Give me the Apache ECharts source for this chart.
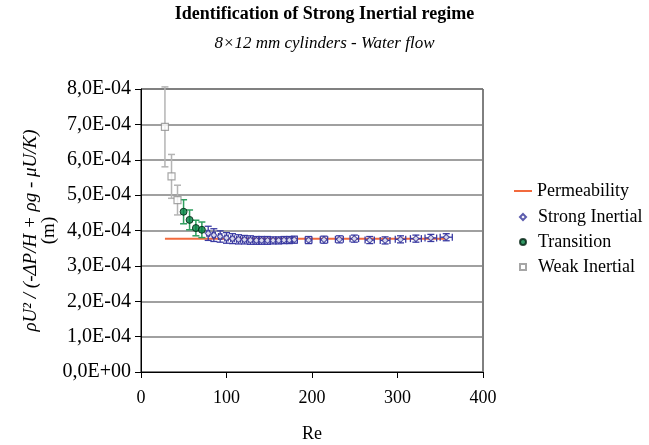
<!DOCTYPE html>
<html>
<head>
<meta charset="utf-8">
<script src="https://cdn.jsdelivr.net/npm/echarts@6/dist/echarts.min.js"></script>
<style>html,body{margin:0;padding:0;background:#fff}#c{width:649px;height:445px}</style>
</head>
<body>
<div id="c"></div>
<script>
// ---- data ----
const xTicks = [0, 100, 200, 300, 400];
const yTicks = [0, 1e-4, 2e-4, 3e-4, 4e-4, 5e-4, 6e-4, 7e-4, 8e-4];

const permeabilityRe = [28, 357];
const permeabilityVal = [3.77e-4, 3.77e-4];

const strongRe = [78.6, 85.2, 92.6, 100, 107, 114, 121, 128, 135, 141, 148, 154.5, 161, 167.3, 173.5, 179.3, 196, 214, 232, 249.5, 267.5, 285.5, 303.5, 321.5, 339, 357];
const strongVal = [3.92e-4, 3.87e-4, 3.83e-4, 3.79e-4, 3.77e-4, 3.75e-4, 3.74e-4, 3.73e-4, 3.72e-4, 3.72e-4, 3.72e-4, 3.72e-4, 3.72e-4, 3.73e-4, 3.73e-4, 3.74e-4, 3.73e-4, 3.74e-4, 3.75e-4, 3.77e-4, 3.73e-4, 3.72e-4, 3.75e-4, 3.77e-4, 3.79e-4, 3.81e-4];
const strongErrY = [0.2e-4, 0.18e-4, 0.16e-4, 0.15e-4, 0.14e-4, 0.13e-4, 0.12e-4, 0.12e-4, 0.11e-4, 0.11e-4, 0.11e-4, 0.1e-4, 0.1e-4, 0.1e-4, 0.1e-4, 0.1e-4, 0.1e-4, 0.1e-4, 0.1e-4, 0.1e-4, 0.1e-4, 0.1e-4, 0.1e-4, 0.1e-4, 0.1e-4, 0.1e-4];
const strongErrX = [1.6, 1.7, 1.9, 2, 2.1, 2.3, 2.4, 2.6, 2.7, 2.8, 3, 3.1, 3.2, 3.3, 3.5, 3.6, 3.9, 4.3, 4.6, 5, 5.4, 5.7, 6.1, 6.4, 6.8, 7.1];

const transRe = [49.8, 56.8, 64.2, 71.2];
const transVal = [4.53e-4, 4.30e-4, 4.07e-4, 4.02e-4];
const transErr = [0.34e-4, 0.28e-4, 0.22e-4, 0.22e-4];

const weakRe = [28.0, 35.7, 42.7];
const weakVal = [6.93e-4, 5.53e-4, 4.86e-4];
const weakErr = [1.13e-4, 0.62e-4, 0.42e-4];

// ---- helpers ----
function fmtE(v) {
  if (Math.abs(v) < 1e-12) return '0,0E+00';
  let e = Math.floor(Math.log10(v) + 1e-9);
  let m = v / Math.pow(10, e);
  const s = Math.abs(e) < 10 ? '0' + Math.abs(e) : '' + Math.abs(e);
  return m.toFixed(1).replace('.', ',') + 'E' + (e < 0 ? '-' : '+') + s;
}
function errBars(color, lw) {
  return function (params, api) {
    const x = api.value(0), y = api.value(1), ey = api.value(2), ex = api.value(3);
    const st = { stroke: color, lineWidth: lw };
    const t = api.coord([x, y + ey]), b = api.coord([x, y - ey]);
    const cap = 3.5;
    const ch = [
      { type: 'line', shape: { x1: t[0], y1: t[1], x2: b[0], y2: b[1] }, style: st },
      { type: 'line', shape: { x1: t[0] - cap, y1: t[1], x2: t[0] + cap, y2: t[1] }, style: st },
      { type: 'line', shape: { x1: b[0] - cap, y1: b[1], x2: b[0] + cap, y2: b[1] }, style: st }
    ];
    if (ex) {
      const l = api.coord([x - ex, y]), r = api.coord([x + ex, y]);
      ch.push({ type: 'line', shape: { x1: l[0], y1: l[1], x2: r[0], y2: r[1] }, style: st });
      ch.push({ type: 'line', shape: { x1: l[0], y1: l[1] - cap, x2: l[0], y2: l[1] + cap }, style: st });
      ch.push({ type: 'line', shape: { x1: r[0], y1: r[1] - cap, x2: r[0], y2: r[1] + cap }, style: st });
    }
    return { type: 'group', children: ch };
  };
}

const FONT = '"Liberation Serif", "Times New Roman", serif';
const chart = echarts.init(document.getElementById('c'), null, { renderer: 'canvas' });
const legendText = { fontFamily: FONT, fontSize: 18, color: '#000', lineHeight: 18 };

chart.setOption({
  animation: false,
  textStyle: { fontFamily: FONT },
  title: [
    { text: 'Identification of Strong Inertial regime', left: 'center', top: 0,
      textStyle: { fontFamily: FONT, fontSize: 18, fontWeight: 'bold', color: '#000' } },
    { text: '8×12 mm cylinders - Water flow', left: 'center', top: 30,
      textStyle: { fontFamily: FONT, fontSize: 17, fontStyle: 'italic', fontWeight: 'normal', color: '#000' } }
  ],
  legend: [
    { orient: 'vertical', left: 514, top: 182, padding: 0, itemWidth: 18, itemHeight: 2, itemGap: 7,
      textStyle: legendText,
      data: [{ name: 'Permeability', icon: 'rect' }] },
    { orient: 'vertical', left: 519, top: 208, padding: 0, itemWidth: 6, itemHeight: 6, itemGap: 7,
      textStyle: Object.assign({ padding: [0, 0, 0, 7] }, legendText),
      data: ['Strong Inertial', 'Transition', 'Weak Inertial'] }
  ],
  grid: { left: 141, right: 166, top: 89, bottom: 73, outerBoundsMode: 'none', containLabel: false,
    show: true, borderColor: '#000', borderWidth: 1, backgroundColor: 'transparent' },
  xAxis: {
    type: 'value', min: xTicks[0], max: xTicks[xTicks.length - 1], interval: 100,
    name: 'Re', nameLocation: 'middle', nameGap: 53, nameMoveOverlap: false,
    nameTextStyle: { fontFamily: FONT, fontSize: 18, color: '#000' },
    axisLine: { show: true, lineStyle: { color: '#000', width: 1 } },
    axisTick: { show: true, inside: false, length: 6, lineStyle: { color: '#000' } },
    axisLabel: { fontFamily: FONT, fontSize: 18, color: '#000', margin: 17 },
    splitLine: { show: false }
  },
  yAxis: {
    type: 'value', min: yTicks[0], max: yTicks[yTicks.length - 1], interval: 1e-4,
    name: '{i|ρU² / (-ΔP/H + ρg - μU/K)}\n{n|(m)}',
    nameLocation: 'middle', nameGap: 82, nameRotate: 90, nameMoveOverlap: false,
    nameTextStyle: { fontFamily: FONT, fontSize: 19, color: '#000', lineHeight: 19,
      rich: { i: { fontFamily: FONT, fontSize: 19, fontStyle: 'italic', lineHeight: 19 },
              n: { fontFamily: FONT, fontSize: 19, lineHeight: 19 } } },
    axisLine: { show: true, lineStyle: { color: '#000', width: 1 } },
    axisTick: { show: true, inside: false, length: 6, lineStyle: { color: '#000' } },
    axisLabel: { fontFamily: FONT, fontSize: 20, color: '#000', margin: 10, formatter: fmtE },
    splitLine: { show: true, lineStyle: { color: '#808080', width: 1.5 } }
  },
  series: [
    { name: 'Permeability', type: 'line', symbol: 'none', z: 3,
      data: permeabilityRe.map((r, i) => [r, permeabilityVal[i]]),
      lineStyle: { color: '#F26A3D', width: 2 }, itemStyle: { color: '#F26A3D' } },
    { name: 'errStrong', type: 'custom', z: 4,
      renderItem: errBars('#3B3BA3', 1.3),
      encode: { x: 0, y: 1 },
      data: strongRe.map((r, i) => [r, strongVal[i], strongErrY[i], strongErrX[i]]) },
    { name: 'errTrans', type: 'custom', z: 4,
      renderItem: errBars('#2E9E5E', 1.5),
      encode: { x: 0, y: 1 },
      data: transRe.map((r, i) => [r, transVal[i], transErr[i], 0]) },
    { name: 'errWeak', type: 'custom', z: 4,
      renderItem: errBars('#B4B4B4', 1.5),
      encode: { x: 0, y: 1 },
      data: weakRe.map((r, i) => [r, weakVal[i], weakErr[i], 0]) },
    { name: 'Strong Inertial', type: 'scatter', symbol: 'diamond', symbolSize: 6, z: 5,
      data: strongRe.map((r, i) => [r, strongVal[i]]),
      itemStyle: { color: '#fff', borderColor: '#333399', borderWidth: 1.2 } },
    { name: 'Transition', type: 'scatter', symbol: 'circle', symbolSize: 7, z: 5,
      data: transRe.map((r, i) => [r, transVal[i]]),
      itemStyle: { color: '#008040', borderColor: '#002010', borderWidth: 1 } },
    { name: 'Weak Inertial', type: 'scatter', symbol: 'rect', symbolSize: 7, z: 5,
      data: weakRe.map((r, i) => [r, weakVal[i]]),
      itemStyle: { color: '#fff', borderColor: '#909090', borderWidth: 1.2 } }
  ]
});
</script>
</body>
</html>
